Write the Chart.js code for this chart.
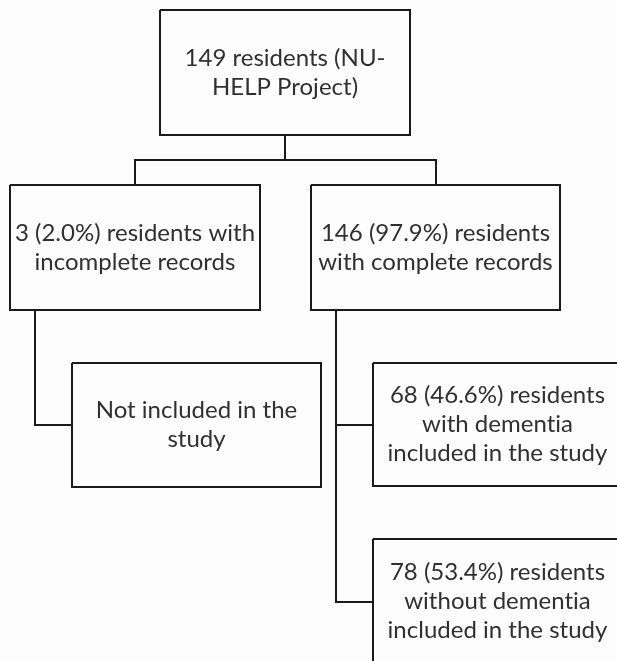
<!DOCTYPE html>
<html>
<head>
<meta charset="utf-8">
<script src="https://cdn.jsdelivr.net/npm/chart.js@4/dist/chart.umd.min.js"></script>
<style>
  html, body { margin: 0; padding: 0; background: #fdfdfd; }
  canvas { display: block; }
</style>
</head>
<body>
<canvas id="flujo" width="617" height="661"></canvas>
<script>
// Datos del diagrama
var nodos = ['total', 'incompletos', 'completos', 'excluidos', 'conDemencia', 'sinDemencia'];
var conteos = [149, 3, 146, null, 68, 78];
var porcentajes = [null, '2.0%', '97.9%', null, '46.6%', '53.4%'];
var textos = [
  ['149 residents (NU-', 'HELP Project)'],
  ['3 (2.0%) residents with', 'incomplete records'],
  ['146 (97.9%) residents', 'with complete records'],
  ['Not included in the', 'study'],
  ['68 (46.6%) residents', 'with dementia', 'included in the study'],
  ['78 (53.4%) residents', 'without dementia', 'included in the study']
];

// Disposicion (izq, arriba, der, abajo) en unidades de la escala
var cajas = [
  [160, 10, 410, 135],
  [10, 185, 260, 310],
  [311, 185, 560, 310],
  [72, 363, 321, 487],
  [373, 363, 622, 486],
  [373, 539, 622, 664]
];
var conectores = [
  [[285, 135], [285, 160]],
  [[135, 185], [135, 160], [436, 160], [436, 185]],
  [[35, 310], [35, 425], [72, 425]],
  [[336, 310], [336, 602], [373, 602]],
  [[336, 425], [373, 425]]
];

var datasets = [];
cajas.forEach(function (c) {
  datasets.push({
    data: [{x: c[0], y: c[1]}, {x: c[2], y: c[1]}, {x: c[2], y: c[3]}, {x: c[0], y: c[3]}, {x: c[0], y: c[1]}],
    showLine: true, borderColor: '#1a1a1a', borderWidth: 2, pointRadius: 0, fill: false, tension: 0,
    borderJoinStyle: 'miter'
  });
});
conectores.forEach(function (linea) {
  datasets.push({
    data: linea.map(function (p) { return {x: p[0], y: p[1]}; }),
    showLine: true, borderColor: '#1a1a1a', borderWidth: 2, pointRadius: 0, fill: false, tension: 0,
    borderJoinStyle: 'miter'
  });
});

// Texto de cada caja
var textoCajas = {
  id: 'textoCajas',
  afterDatasetsDraw: function (chart) {
    var ctx = chart.ctx;
    var sx = chart.scales.x, sy = chart.scales.y;
    var altoLinea = 29;
    ctx.save();
    ctx.font = '24px Lato';
    ctx.letterSpacing = '0.01px'; // evita la ligadura "ti"
    ctx.fillStyle = '#303030';
    ctx.textAlign = 'center';
    ctx.textBaseline = 'middle';
    textos.forEach(function (lineas, i) {
      var c = cajas[i];
      var cx = sx.getPixelForValue((c[0] + c[2]) / 2);
      var cy = sy.getPixelForValue((c[1] + c[3]) / 2);
      var y0 = cy - (lineas.length - 1) * altoLinea / 2;
      lineas.forEach(function (t, k) {
        ctx.fillText(t, cx, y0 + k * altoLinea);
      });
    });
    ctx.restore();
  }
};

new Chart(document.getElementById('flujo').getContext('2d'), {
  type: 'scatter',
  data: { datasets: datasets },
  options: {
    responsive: false,
    animation: false,
    devicePixelRatio: 1,
    layout: { padding: 0 },
    plugins: { legend: { display: false }, tooltip: { enabled: false } },
    scales: {
      x: { type: 'linear', min: 0, max: 617, display: false },
      y: { type: 'linear', min: 0, max: 661, reverse: true, display: false }
    }
  },
  plugins: [textoCajas]
});
</script>
</body>
</html>
